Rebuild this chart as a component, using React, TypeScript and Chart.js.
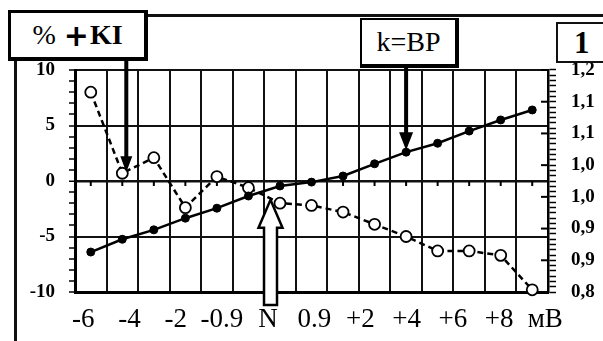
import React, { useEffect, useRef } from "react";
import { Chart, registerables } from "chart.js";

Chart.register(...registerables);

// ---- data ----
const categories = ["1", "2", "3", "4", "5", "6", "7", "8", "9", "10", "11", "12", "13", "14", "15"];
// open circles, dashed line, left axis (%)
const kiPercent = [8.0, 0.7, 2.1, -2.4, 0.4, -0.6, -2.0, -2.2, -2.8, -3.9, -5.0, -6.3, -6.3, -6.7, -9.8];
// filled dots, solid line, right axis (k)
const kRatio = [0.872, 0.895, 0.912, 0.933, 0.951, 0.973, 0.991, 0.998, 1.009, 1.031, 1.052, 1.068, 1.09, 1.11, 1.128];
const xTickLabels = ["-6", "-4", "-2", "-0.9", "N", "0.9", "+2", "+4", "+6", "+8", "мВ"];
const leftTickLabels = ["-10", "-5", "0", "5", "10"];
const rightTickLabels = ["0,8", "0,9", "0,9", "1,0", "1,0", "1,1", "1,1", "1,2"];
// annotation anchors
const kiArrowIndex = 1;
const kArrowIndex = 10;
const nArrowTarget = { index: 5.7, value: -1.7 };

const SERIF = '"Liberation Serif", "Times New Roman", serif';

function solidDownArrow(ctx: CanvasRenderingContext2D, x: number, y0: number, tip: number, sw: number, hw: number, hl: number) {
  ctx.fillStyle = "#000";
  ctx.fillRect(x - sw / 2, y0, sw, tip - hl - y0 + 1);
  ctx.beginPath();
  ctx.moveTo(x - hw / 2, tip - hl);
  ctx.lineTo(x + hw / 2, tip - hl);
  ctx.lineTo(x, tip);
  ctx.closePath();
  ctx.fill();
}

export default function App() {
  const ref = useRef<HTMLCanvasElement>(null);

  useEffect(() => {
    const canvas = ref.current!;
    const annot = {
      id: "annot",
      beforeDatasetsDraw(chart: any) {
        const ctx = chart.ctx;
        const xs = chart.scales.x;
        const yl = chart.scales.y;
        const yr = chart.scales.y1;
        ctx.save();
        ctx.strokeStyle = "#000";
        ctx.lineWidth = 2;
        const y0 = yl.getPixelForValue(0);
        categories.forEach((_, i) => {
          const x = xs.getPixelForValue(i);
          ctx.beginPath();
          ctx.moveTo(x, y0);
          ctx.lineTo(x, y0 + 5);
          ctx.stroke();
        });
        // inner major ticks on right axis
        const right = chart.chartArea.right;
        rightTickLabels.forEach((_, i) => {
          const y = yr.getPixelForValue(0.8 + (i * 0.4) / 7);
          ctx.beginPath();
          ctx.moveTo(right - 7, y);
          ctx.lineTo(right, y);
          ctx.stroke();
        });
        ctx.restore();
      },
      afterDraw(chart: any) {
        const ctx = chart.ctx as CanvasRenderingContext2D;
        const xs = chart.scales.x;
        const yl = chart.scales.y;
        const yr = chart.scales.y1;
        ctx.save();
        // arrow from "% +KI"
        solidDownArrow(ctx, xs.getPixelForValue(kiArrowIndex) + 4, 58, yl.getPixelForValue(kiPercent[kiArrowIndex]) - 1, 4, 12, 16);
        // arrow from "k=BP"
        solidDownArrow(ctx, xs.getPixelForValue(kArrowIndex), 66, yr.getPixelForValue(kRatio[kArrowIndex]) - 2, 4, 14, 18);
        // hollow arrow at N
        const cx = xs.getPixelForValue(nArrowTarget.index);
        const tip = yl.getPixelForValue(nArrowTarget.value);
        const base = tip + 28;
        const bottom = chart.chartArea.bottom + 13;
        ctx.beginPath();
        ctx.moveTo(cx - 6.5, bottom);
        ctx.lineTo(cx - 6.5, base);
        ctx.lineTo(cx - 12, base);
        ctx.lineTo(cx, tip);
        ctx.lineTo(cx + 12, base);
        ctx.lineTo(cx + 6.5, base);
        ctx.lineTo(cx + 6.5, bottom);
        ctx.closePath();
        ctx.fillStyle = "#fff";
        ctx.fill();
        ctx.lineWidth = 2.5;
        ctx.strokeStyle = "#000";
        ctx.lineJoin = "miter";
        ctx.stroke();
        ctx.restore();
      },
    };

    const chart = new Chart(canvas, {
      type: "line",
      data: {
        labels: categories,
        datasets: [
          {
            label: "k",
            data: kRatio,
            yAxisID: "y1",
            borderColor: "#000",
            borderWidth: 2.5,
            pointRadius: 4,
            pointBackgroundColor: "#000",
            pointBorderColor: "#000",
            pointBorderWidth: 1,
            tension: 0,
            clip: false as any,
          },
          {
            label: "% KI",
            data: kiPercent,
            yAxisID: "y",
            borderColor: "#000",
            borderWidth: 2.5,
            borderDash: [6, 4],
            pointRadius: 5.5,
            pointBackgroundColor: "#fff",
            pointBorderColor: "#000",
            pointBorderWidth: 1.8,
            tension: 0,
            clip: false as any,
          },
        ],
      },
      options: {
        responsive: false,
        animation: false,
        devicePixelRatio: 1,
        layout: { padding: { top: 70, left: 0, right: 0, bottom: 0 } },
        plugins: { legend: { display: false }, tooltip: { enabled: false } },
        scales: {
          x: {
            type: "category",
            position: "bottom",
            offset: true,
            weight: 0,
            grid: { offset: true, color: "#111", lineWidth: 2, drawTicks: false },
            border: { color: "#000", width: 3 },
            ticks: { display: false },
            afterFit: (s: any) => {
              s.height = 0;
            },
          },
          x2: {
            type: "linear",
            position: "bottom",
            weight: 1,
            min: -0.18,
            max: 10.06,
            grid: { display: false, drawTicks: false },
            border: { display: false },
            afterBuildTicks: (s: any) => {
              s.ticks = xTickLabels.map((_, i) => ({ value: i }));
            },
            ticks: {
              autoSkip: false,
              maxRotation: 0,
              minRotation: 0,
              padding: 12,
              color: "#000",
              font: { family: SERIF, size: 27 },
              callback: (_v: any, i: number) => xTickLabels[i] ?? "",
            },
            afterFit: (s: any) => {
              s.height = 49;
            },
          },
          y: {
            position: "left",
            min: -10,
            max: 10,
            ticks: {
              stepSize: 1,
              autoSkip: false,
              padding: 14,
              color: "#000",
              font: { family: SERIF, size: 19, weight: "bold" },
              callback: (v: any) => {
                const n = Number(v);
                return n % 5 === 0 ? leftTickLabels[(n + 10) / 5] : "";
              },
            },
            grid: {
              color: (c: any) => (c.tick && c.tick.value % 5 === 0 ? "#111" : "rgba(0,0,0,0)"),
              lineWidth: (c: any) => (c.tick && c.tick.value === 0 ? 2.5 : 2),
              tickColor: "#000",
              tickLength: 6,
              tickWidth: 1.5,
            },
            border: { color: "#000", width: 3 },
            afterFit: (s: any) => {
              s.width = 75;
            },
          },
          y1: {
            position: "right",
            min: 0.8,
            max: 1.2,
            afterBuildTicks: (s: any) => {
              const t: any[] = [];
              for (let i = 0; i <= 42; i++) t.push({ value: 0.8 + (i * 0.4) / 42 });
              s.ticks = t;
            },
            ticks: {
              autoSkip: false,
              padding: 15,
              color: "#000",
              font: { family: SERIF, size: 19, weight: "bold" },
              callback: (_v: any, i: number) => (i % 6 === 0 ? rightTickLabels[i / 6] : ""),
            },
            grid: { drawOnChartArea: false, tickColor: "#000", tickLength: 8, tickWidth: 1.5 },
            border: { color: "#000", width: 2.5 },
            afterFit: (s: any) => {
              s.width = 55;
            },
          },
        },
      } as any,
      plugins: [annot],
    });
    return () => chart.destroy();
  }, []);

  const boxBase: React.CSSProperties = {
    position: "absolute",
    background: "#fff",
    boxSizing: "border-box",
    display: "flex",
    alignItems: "center",
    justifyContent: "center",
    fontFamily: SERIF,
    color: "#000",
    whiteSpace: "nowrap",
  };

  return (
    <div style={{ position: "fixed", left: 0, top: 0, width: 603, height: 341, background: "#fff", overflow: "hidden" }}>
      <canvas ref={ref} width={603} height={341} style={{ display: "block", position: "absolute", left: 0, top: 0 }} />
      {/* outer frame */}
      <div style={{ position: "absolute", left: 140, top: 14, width: 463, height: 3, background: "#111" }} />
      <div style={{ position: "absolute", left: 14, top: 55, width: 3, height: 286, background: "#111" }} />
      {/* boxes */}
      <div
        style={{
          ...boxBase,
          left: 8,
          top: 10,
          width: 140,
          height: 51,
          borderStyle: "solid",
          borderColor: "#000",
          borderWidth: "3px 4px 4px 3px",
          fontWeight: "bold",
          fontSize: 28,
        }}
      >
        <span style={{ fontWeight: "normal" }}>%</span>
        <span style={{ fontFamily: '"DejaVu Sans", sans-serif', fontWeight: 900, fontSize: 30, margin: "0 1px 0 8px" }}>+</span>
        <span>KI</span>
      </div>
      <div
        style={{
          ...boxBase,
          left: 360,
          top: 18,
          width: 99,
          height: 50,
          borderStyle: "solid",
          borderColor: "#000",
          borderWidth: "2px 4px 4px 2px",
          fontSize: 28,
        }}
      >
        k=BP
      </div>
      <div
        style={{
          ...boxBase,
          left: 556,
          top: 22,
          width: 52,
          height: 41,
          border: "2px solid #111",
          justifyContent: "flex-start",
          paddingLeft: 16,
          fontSize: 31,
          fontWeight: "bold",
        }}
      >
        1
      </div>
    </div>
  );
}
